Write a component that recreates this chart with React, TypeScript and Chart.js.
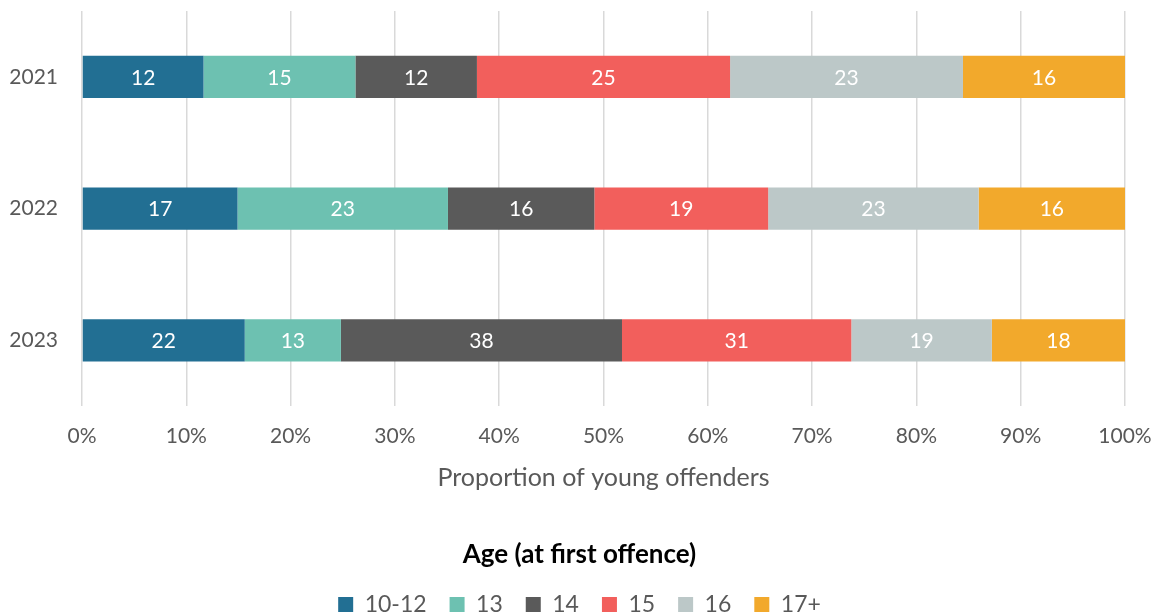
import React, { useEffect, useRef } from "react";
import { Chart, registerables } from "chart.js";

Chart.register(...registerables);

const years = ["2021", "2022", "2023"];
const ageGroups = ["10-12", "13", "14", "15", "16", "17+"];
const colors = ["#226F93", "#6DC1B1", "#5A5A5A", "#F25F5C", "#BCC8C8", "#F2A92C"];
const counts1012 = [12, 17, 22];
const counts13 = [15, 23, 13];
const counts14 = [12, 16, 38];
const counts15 = [25, 19, 31];
const counts16 = [23, 23, 19];
const counts17 = [16, 16, 18];
const tickLabels = ["0%", "10%", "20%", "30%", "40%", "50%", "60%", "70%", "80%", "90%", "100%"];

const FONT = "Lato, 'Noto Sans', sans-serif";

export default function App() {
  const ref = useRef<HTMLCanvasElement | null>(null);

  useEffect(() => {
    document.body.style.margin = "0";
    const allCounts = [counts1012, counts13, counts14, counts15, counts16, counts17];
    const totals = years.map((_, i) => allCounts.reduce((s, arr) => s + arr[i], 0));

    const labelPlugin = {
      id: "barLabels",
      beforeUpdate(chart: any) {
        const lg = chart.legend;
        if (lg && !lg._patchedFit) {
          const orig = lg.fit.bind(lg);
          lg.fit = function () {
            orig();
            this.height -= 11;
          };
          lg._patchedFit = true;
        }
      },
      afterDatasetsDraw(chart: any) {
        const ctx = chart.ctx;
        ctx.save();
        ctx.font = `21px ${FONT}`;
        ctx.fillStyle = "#ffffff";
        ctx.textAlign = "center";
        ctx.textBaseline = "middle";
        chart.data.datasets.forEach((ds: any, di: number) => {
          const meta = chart.getDatasetMeta(di);
          meta.data.forEach((el: any, i: number) => {
            const cx = (el.x + el.base) / 2;
            ctx.fillText(String(ds.counts[i]), cx, el.y + 1);
          });
        });
        ctx.restore();
      },
    };

    const chart = new Chart(ref.current as HTMLCanvasElement, {
      type: "bar",
      data: {
        labels: years,
        datasets: ageGroups.map((g, k) => ({
          label: g,
          data: allCounts[k].map((v, i) => (v / totals[i]) * 100),
          counts: allCounts[k],
          backgroundColor: colors[k],
          borderWidth: 0,
          barPercentage: 0.32,
          categoryPercentage: 1,
        })) as any,
      },
      options: {
        indexAxis: "y",
        animation: false,
        responsive: true,
        maintainAspectRatio: false,
        layout: { padding: { top: 11, right: 0, left: 0, bottom: 0 } },
        scales: {
          x: {
            stacked: true,
            min: 0,
            max: 100,
            grid: { color: "#D9D9D9", drawTicks: false, lineWidth: 1.5 },
            border: { display: false },
            ticks: {
              stepSize: 10,
              padding: 17,
              color: "#595959",
              font: { size: 21, family: FONT },
              callback: (_v: any, i: number) => tickLabels[i],
            },
            title: {
              display: true,
              text: "Proportion of young offenders",
              color: "#595959",
              font: { size: 25, family: FONT, lineHeight: 1.0 },
              padding: { top: 0, bottom: 51 },
            },
            afterFit: (s: any) => {
              s.paddingRight = 34;
              s.paddingLeft = 0;
            },
          },
          y: {
            stacked: true,
            grid: { display: false, drawTicks: false },
            border: { display: false },
            ticks: {
              padding: 24,
              color: "#595959",
              font: { size: 21, family: FONT },
            },
            afterFit: (s: any) => {
              s.width = 82;
              s.paddingTop = 0;
              s.paddingBottom = 0;
            },
          },
        },
        plugins: {
          tooltip: { enabled: false },
          legend: {
            position: "bottom",
            title: {
              display: true,
              text: "Age (at first offence)",
              color: "#000000",
              font: { size: 26, weight: "bold", family: FONT, lineHeight: 1.1 },
              padding: { top: 0, bottom: 0 },
            },
            labels: {
              boxWidth: 15,
              boxHeight: 15,
              padding: 23,
              color: "#595959",
              font: { size: 23, family: FONT },
            },
          },
        },
      },
      plugins: [labelPlugin],
    } as any);

    return () => chart.destroy();
  }, []);

  return (
    <div style={{ position: "relative", width: 1159, height: 615 }}>
      <canvas ref={ref} />
    </div>
  );
}
